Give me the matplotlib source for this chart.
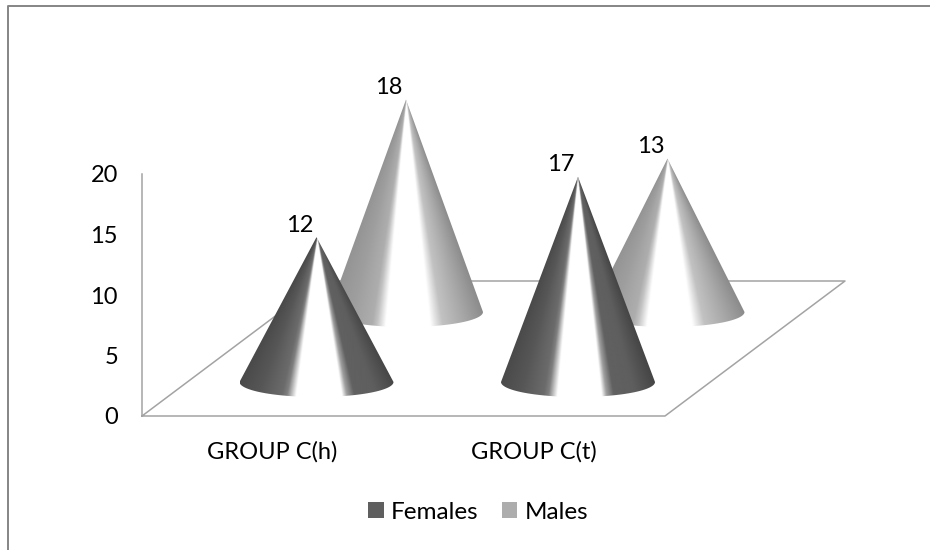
import numpy as np
import matplotlib
matplotlib.use("Agg")
import matplotlib.pyplot as plt
from matplotlib.patches import Patch, PathPatch
from matplotlib.path import Path

categories = ["GROUP C(h)", "GROUP C(t)"]
series_names = ["Females", "Males"]
females = [12, 17]
males = [18, 13]
y_ticks = [0, 5, 10, 15, 20]

plt.rcParams["font.family"] = ["Lato", "DejaVu Sans"]
FONT = 17
LINE = "#a3a3a3"
FRAME = "#858585"

# shading across the cone, -1 is left edge and 1 is right edge
stops = [-1.0, -0.7, -0.42, -0.36, -0.25, 0.29, 0.35, 0.44, 0.7, 1.0]
female_shade = [0.29, 0.34, 0.42, 0.50, 1.0, 1.0, 0.62, 0.38, 0.37, 0.27]
male_shade = [0.58, 0.62, 0.68, 0.76, 1.0, 1.0, 0.90, 0.76, 0.66, 0.54]


def value_to_y(value, base=416.0, scale=12.1):
    return base - value * scale


def draw_cone(ax, cx, value, base_y, scale, shade, zorder):
    half_w, half_h = 77.0, 15.0
    apex_y = base_y - value * scale
    # clip shape: apex then front half of the base ellipse
    theta = np.linspace(0, np.pi, 60)
    pts = [(cx, apex_y)] + list(zip(cx + half_w * np.cos(theta), base_y + half_h * np.sin(theta)))
    pts.append((cx, apex_y))
    codes = [Path.MOVETO] + [Path.LINETO] * (len(pts) - 2) + [Path.CLOSEPOLY]
    clip = PathPatch(Path(pts, codes), transform=ax.transData, fc="none", ec="none")
    ax.add_patch(clip)
    # shade runs along lines through the apex
    top, bottom = apex_y, base_y + half_h
    xs = np.linspace(cx - half_w, cx + half_w, 320)
    ys = np.linspace(top, bottom, 320)
    gx, gy = np.meshgrid(xs, ys)
    width = np.maximum(half_w * (gy - apex_y) / (base_y - apex_y), 0.01)
    img = np.interp((gx - cx) / width, stops, shade)
    im = ax.imshow(img, extent=(xs[0], xs[-1], bottom, top), origin="upper", cmap="gray",
                   vmin=0, vmax=1, aspect="auto", zorder=zorder, interpolation="bilinear")
    im.set_clip_path(clip)
    ax.text(cx - 17, apex_y - 12, str(value), ha="center", va="center", fontsize=FONT, color="black", zorder=6)


fig = plt.figure(figsize=(9.3, 5.5), dpi=100)
ax = fig.add_axes([0, 0, 1, 1])
ax.axis("off")

# outer frame, only top and left survive in the picture
ax.plot([8, 8, 930], [550, 6, 6], color=FRAME, lw=1.4, zorder=1)

# floor and wall lines
floor_y, back_y = value_to_y(0), 281
ax.plot([142, 142], [value_to_y(20), floor_y], color=LINE, lw=1.1, zorder=1)
ax.plot([142, 665, 845, 322, 142], [floor_y, floor_y, back_y, back_y, floor_y], color=LINE, lw=1.1, zorder=1)

for tick in y_ticks:
    ax.text(118, value_to_y(tick) + 2, str(tick), ha="right", va="center", fontsize=FONT)

for i, name in enumerate(categories):
    ax.text(272 + i * 262, 452, name, ha="center", va="center", fontsize=FONT)

# back row first so the females sit in front
for i, value in enumerate(males):
    draw_cone(ax, 406 + i * 261.5, value, 312, 11.8, male_shade, 3)
for i, value in enumerate(females):
    draw_cone(ax, 316.5 + i * 261.5, value, 382, 12.07, female_shade, 4)

handles = [Patch(facecolor="#5f5f5f", label=series_names[0]), Patch(facecolor="#adadad", label=series_names[1])]
ax.legend(handles=handles, ncol=2, frameon=False, fontsize=17.5, loc="center", bbox_to_anchor=(0.514, 0.069),
          handlelength=0.64, handleheight=0.64, handletextpad=0.3, columnspacing=0.95)

ax.set_xlim(0, 930)
ax.set_ylim(550, 0)
fig.savefig("out.png", dpi=100)
